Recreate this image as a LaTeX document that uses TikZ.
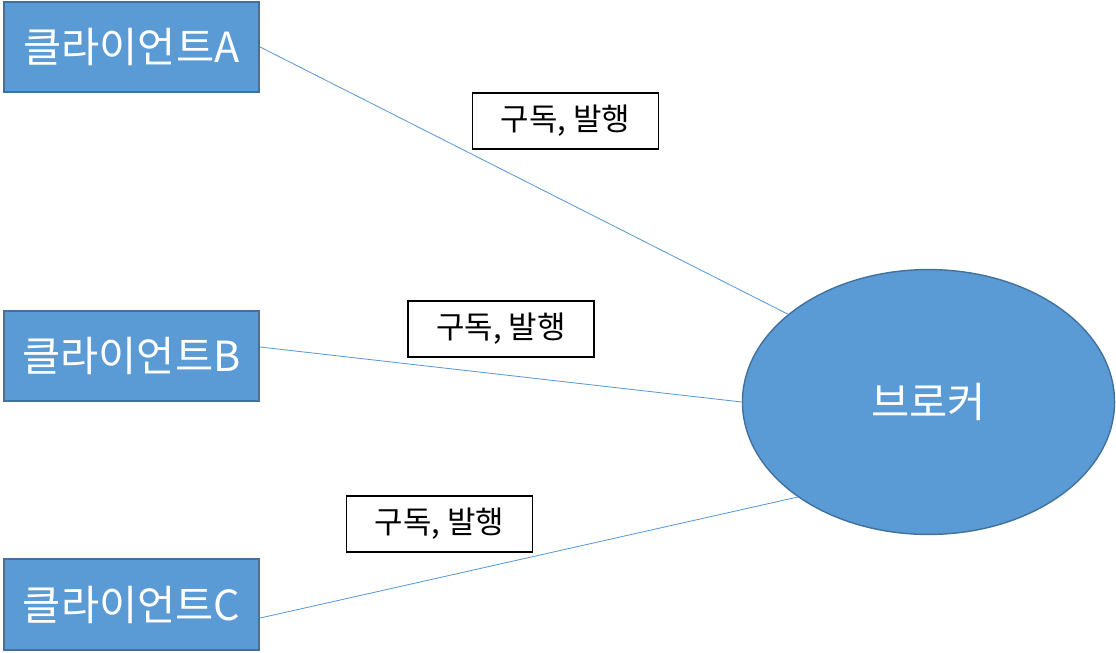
\documentclass[tikz,border=0pt]{standalone}
\usepackage{fontspec}
\setmainfont{Noto Sans CJK KR}
\usetikzlibrary{shapes.geometric}
\begin{document}
\begin{tikzpicture}[x=0.025cm,y=-0.025cm,
    client/.style={draw=boxline,fill=boxfill,line width=1.4pt,minimum width=6.38cm,
                   minimum height=2.26cm,inner sep=0pt,text=white,
                   font=\fontsize{29.5}{32}\selectfont},
    broker/.style={ellipse,draw=boxline,fill=boxfill,line width=1pt,minimum width=9.3cm,
                   minimum height=6.62cm,inner sep=0pt,text=white,
                   font=\fontsize{29.5}{32}\selectfont},
    tag/.style={draw=black,line width=1.3pt,fill=white,minimum width=4.65cm,
                minimum height=1.38cm,inner sep=0pt,font=\fontsize{22}{26}\selectfont},
    link/.style={draw=boxfill,line width=0.6pt}]
  % colores tipo diapositiva
  \definecolor{boxfill}{HTML}{5B9BD5}
  \definecolor{boxline}{HTML}{41719C}
  \useasboundingbox[fill=white] (0,0) rectangle (1116,652);
  \node[broker] (broker) at (928.5,402) {브로커};
  % clientes y sus conexiones con el broker
  \foreach \n/\y/\ca/\ea in {A/47/0/148, B/356/4.5/180, C/604.5/-6.5/216}{
    \node[client] (c\n) at (131.5,\y) {클라이언트\n};
    \draw[link] (c\n.\ca) -- (broker.\ea);
  }
  \foreach \x/\y [count=\i] in {565.5/121, 501/329, 439.5/524}
    \node[tag] (t\i) at (\x,\y) {구독, 발행};
\end{tikzpicture}
\end{document}
